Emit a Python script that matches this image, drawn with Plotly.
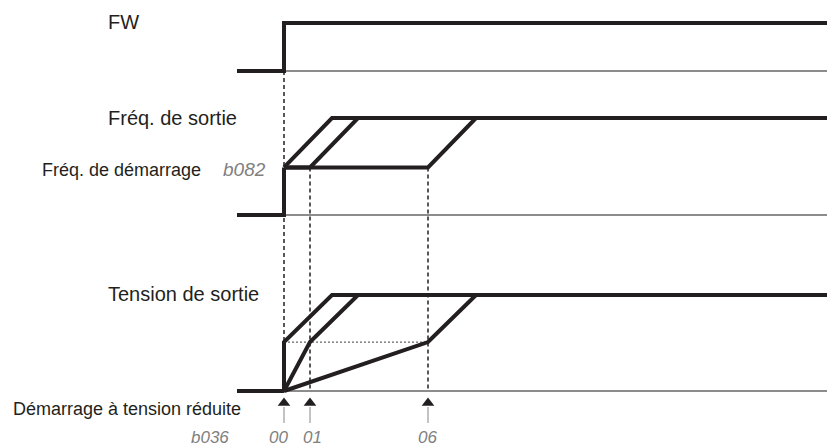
import plotly.graph_objects as go

# ---- time axis (horizontal units) ----
t_lead = 237          # start of drawn "off" segment
t_on = 284            # FW goes on / start of output
t_end = 835           # right end of thick traces
t_base_end = 828      # right end of thin baselines
ramp_len = 48         # acceleration ramp duration

# reduced-voltage start settings (b036) : time at which voltage reaches start level
mode_labels = ["00", "01", "06"]
mode_times = [284, 310, 428]
mode_label_x = [278, 312, 427]

# levels (fraction of full scale)
freq_start_level = 0.49   # b082 start frequency
volt_start_level = 0.51

# channel geometry (baseline, full-scale) in figure units
ch_fw = (71, 23)
ch_freq = (215, 118)
ch_volt = (391, 295)

def Y(ch, lvl):
    base, top = ch
    return base - lvl * (base - top)

INK = "#231f20"
GREY = "#666666"

fig = go.Figure()

def line(xs, ys, color=INK, width=4, dash=None):
    fig.add_trace(go.Scatter(x=xs, y=ys, mode="lines",
                             line=dict(color=color, width=width, dash=dash, shape="linear"),
                             hoverinfo="skip", showlegend=False))

# thin baselines
for ch in (ch_fw, ch_freq, ch_volt):
    line([t_on, t_base_end], [Y(ch, 0), Y(ch, 0)], color=GREY, width=1.5)

# dashed verticals
line([t_on, t_on], [Y(ch_fw, 0), Y(ch_volt, 0)], color="#222222", width=1.5, dash="4px,3px")
for tm in mode_times[1:]:
    line([tm, tm], [Y(ch_freq, freq_start_level), Y(ch_volt, 0)], color="#222222", width=1.5, dash="4px,3px")

# dotted reference at voltage start level
line([t_on, mode_times[-1]], [Y(ch_volt, volt_start_level)] * 2, color="#666666", width=1.3, dash="2px,2px")

# FW signal
fw_x = [t_lead, t_on, t_on, t_base_end]
fw_l = [0, 0, 1, 1]
line(fw_x, [Y(ch_fw, v) for v in fw_l])

# Output frequency: one curve per mode
line([t_lead, t_on, t_on], [Y(ch_freq, 0), Y(ch_freq, 0), Y(ch_freq, freq_start_level)])
for tm in mode_times:
    xs = [t_on, tm, tm + ramp_len, t_end]
    ls = [freq_start_level, freq_start_level, 1, 1]
    line(xs, [Y(ch_freq, v) for v in ls])

# Output voltage: one curve per mode
line([t_lead, t_on], [Y(ch_volt, 0)] * 2)
for tm in mode_times:
    xs = [t_on, tm, tm + ramp_len, t_end]
    ls = [0, volt_start_level, 1, 1]
    line(xs, [Y(ch_volt, v) for v in ls])

# arrows below the voltage channel
for tm in mode_times:
    line([tm, tm], [423, 407], color="#888888", width=1)
fig.add_trace(go.Scatter(x=mode_times, y=[403] * len(mode_times), mode="markers",
                         marker=dict(symbol="triangle-up", size=11, color=INK),
                         hoverinfo="skip", showlegend=False))

FONT = "Liberation Sans, Arial, sans-serif"
def label(x, y, text, size=20, color="#231f20", anchor="left", italic=False):
    fig.add_annotation(x=x, y=y, text=(f"<i>{text}</i>" if italic else text), showarrow=False,
                       xanchor=anchor, yanchor="middle",
                       font=dict(family=FONT, size=size, color=color))

label(106, 22, "FW")
label(106, 118, "Fréq. de sortie")
label(40, 170, "Fréq. de démarrage", size=18)
label(244, 169, "b082", size=19, color="#808080", anchor="center", italic=True)
label(106, 294, "Tension de sortie")
label(11, 409, "Démarrage à tension réduite", size=18)
label(210, 437, "b036", size=17, color="#808080", anchor="center", italic=True)
for lx, lab in zip(mode_label_x, mode_labels):
    label(lx, 437, lab, size=17, color="#808080", anchor="center", italic=True)

# page body has an 8px margin: shift the axis ranges so data units == page pixels
fig.update_layout(width=835, height=448, autosize=False,
                  margin=dict(l=0, r=0, t=0, b=0),
                  plot_bgcolor="white", paper_bgcolor="white",
                  xaxis=dict(range=[8, 843], visible=False, fixedrange=True),
                  yaxis=dict(range=[456, 8], visible=False, fixedrange=True))

fig.write_html("out.html")
